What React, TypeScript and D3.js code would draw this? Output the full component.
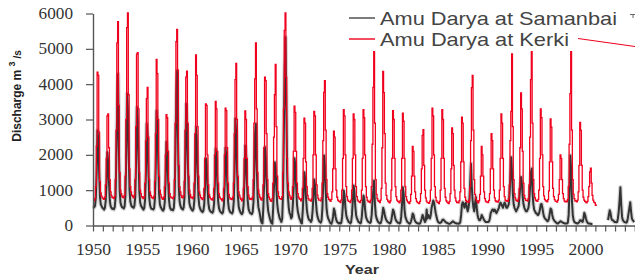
import { useEffect, useRef } from 'react';
import * as d3 from 'd3';

// monthly discharge (m3/s), Jan..Dec, one row per year
const kerkiStart = 1950;
const kerkiMonthly: number[][] = [
  [720, 700, 760, 1100, 2250, 4340, 4250, 2640, 1250, 920, 830, 780],
  [760, 740, 800, 1150, 1900, 3100, 3160, 2200, 1300, 950, 850, 800],
  [780, 760, 820, 1300, 2700, 5170, 5770, 3400, 1500, 1000, 900, 830],
  [800, 780, 850, 1400, 3000, 5600, 6020, 3700, 1600, 1100, 950, 850],
  [820, 780, 850, 1300, 2800, 4850, 4890, 3300, 1500, 1000, 900, 820],
  [780, 760, 820, 1200, 2400, 3590, 3910, 2500, 1300, 950, 850, 800],
  [780, 760, 830, 1250, 2600, 4700, 4300, 3000, 1400, 1000, 880, 800],
  [760, 740, 800, 1100, 2000, 3140, 3050, 2100, 1200, 900, 820, 780],
  [780, 760, 820, 1300, 2900, 5200, 5550, 4400, 1700, 1100, 950, 850],
  [800, 780, 840, 1250, 2700, 4200, 4370, 2900, 1400, 1000, 880, 800],
  [780, 760, 820, 1200, 2600, 4830, 4250, 2800, 1400, 950, 860, 790],
  [760, 730, 780, 1050, 1900, 3440, 3400, 2000, 1150, 880, 800, 760],
  [740, 720, 780, 1050, 2000, 3510, 3300, 2100, 1200, 900, 800, 760],
  [740, 700, 760, 1050, 2000, 3320, 3250, 2200, 1200, 880, 790, 750],
  [760, 730, 800, 1200, 2600, 4130, 4590, 3000, 1400, 950, 850, 780],
  [740, 700, 760, 1050, 1900, 3240, 3000, 1900, 1100, 860, 780, 740],
  [760, 730, 800, 1300, 2900, 4150, 5170, 3300, 1500, 1000, 880, 800],
  [750, 720, 780, 1150, 2200, 4200, 4100, 2600, 1300, 900, 800, 740],
  [700, 680, 760, 1200, 2500, 3700, 4560, 2800, 1400, 950, 820, 760],
  [760, 740, 820, 1500, 3300, 5520, 6020, 4200, 1900, 1200, 950, 850],
  [780, 740, 800, 1100, 2100, 3380, 3200, 2100, 1200, 900, 800, 760],
  [740, 700, 760, 1050, 1900, 3040, 2900, 1800, 1100, 850, 760, 720],
  [720, 690, 750, 1050, 2000, 3230, 3100, 2000, 1150, 860, 770, 720],
  [720, 700, 780, 1200, 2400, 3770, 4100, 2700, 1300, 900, 800, 740],
  [720, 680, 740, 950, 1600, 2670, 2500, 1600, 1000, 800, 720, 690],
  [680, 650, 720, 1000, 1900, 3280, 3100, 2000, 1100, 820, 720, 680],
  [680, 650, 720, 1000, 1900, 3160, 3000, 2000, 1100, 820, 720, 680],
  [670, 650, 710, 1000, 1900, 3280, 3050, 2000, 1100, 800, 710, 670],
  [680, 650, 720, 1100, 2300, 3910, 4920, 2900, 1300, 880, 760, 700],
  [680, 650, 720, 1050, 2200, 4360, 3760, 2600, 1200, 850, 740, 690],
  [670, 640, 700, 1000, 1900, 3250, 3000, 1900, 1100, 820, 720, 680],
  [670, 640, 700, 1000, 1900, 3180, 2950, 1900, 1100, 820, 720, 670],
  [650, 620, 680, 880, 1400, 2240, 2100, 1400, 950, 760, 680, 650],
  [640, 620, 680, 900, 1600, 2550, 2710, 1700, 1000, 780, 690, 650],
  [650, 630, 690, 1000, 1900, 3320, 3100, 2000, 1100, 800, 700, 660],
  [650, 620, 690, 1000, 1900, 3280, 3000, 1900, 1050, 800, 700, 660],
  [640, 620, 680, 900, 1600, 2760, 2600, 1700, 1000, 780, 690, 650],
  [660, 640, 700, 950, 1800, 3070, 2900, 1800, 1050, 800, 710, 670],
  [680, 650, 720, 1100, 2400, 3900, 4250, 2700, 1300, 880, 760, 700],
  [660, 640, 700, 880, 1400, 2240, 2000, 1400, 950, 760, 690, 660],
  [670, 650, 710, 900, 1600, 2600, 2400, 1600, 1000, 780, 700, 670],
  [680, 660, 720, 1000, 1900, 3160, 2900, 1900, 1100, 820, 720, 690],
  [700, 680, 760, 1150, 2400, 3230, 4860, 2800, 1300, 900, 780, 720],
  [700, 680, 750, 1050, 2200, 3750, 3300, 2100, 1200, 850, 760, 710],
  [710, 690, 760, 1150, 2500, 4130, 4920, 2900, 1300, 900, 780, 720],
  [700, 680, 740, 1000, 1900, 3300, 3050, 2000, 1100, 840, 740, 700],
  [690, 670, 730, 980, 1800, 3020, 2780, 1800, 1050, 820, 730, 690],
  [680, 660, 720, 880, 1300, 2000, 1900, 1300, 900, 760, 690, 670],
  [690, 670, 740, 1100, 2300, 3730, 4920, 2700, 1300, 880, 760, 700],
  [690, 670, 720, 950, 1700, 2920, 2690, 1700, 1000, 800, 720, 680],
  [660, 640, 680, 820, 1100, 1520, 1620, 1200, 850, 720, 660, 640],
  [570, 600],
];

const samanbaiStart = 1950;
const samanbaiMonthly: (number | null)[][] = [
  [550, 520, 560, 800, 1500, 2690, 2400, 1500, 800, 600, 550, 500],
  [480, 450, 500, 700, 1200, 2070, 1800, 1200, 700, 550, 500, 470],
  [480, 460, 520, 800, 2000, 3300, 4290, 2200, 1000, 650, 560, 520],
  [500, 480, 540, 850, 1900, 3730, 3300, 2100, 1000, 680, 580, 530],
  [520, 500, 560, 820, 1800, 3350, 3000, 1900, 950, 650, 560, 520],
  [480, 450, 500, 750, 1500, 2880, 2500, 1500, 800, 580, 500, 470],
  [470, 450, 500, 780, 1700, 3250, 2900, 1800, 900, 600, 520, 480],
  [440, 420, 470, 680, 1300, 2360, 2100, 1300, 750, 540, 470, 440],
  [450, 430, 500, 850, 2200, 3700, 4390, 2500, 1100, 680, 560, 500],
  [470, 450, 510, 800, 1800, 3440, 3000, 1900, 950, 620, 530, 480],
  [440, 420, 470, 720, 1500, 2780, 2400, 1500, 800, 560, 480, 430],
  [400, 380, 420, 600, 1100, 1900, 1700, 1100, 650, 480, 420, 390],
  [380, 360, 410, 620, 1200, 2170, 1900, 1200, 680, 490, 420, 380],
  [360, 340, 390, 600, 1200, 2190, 1950, 1250, 700, 480, 410, 370],
  [360, 340, 400, 680, 1600, 3020, 2600, 1600, 850, 540, 440, 380],
  [340, 320, 370, 600, 1250, 2260, 2000, 1250, 700, 470, 400, 350],
  [340, 320, 380, 650, 1500, 2600, 2880, 1700, 850, 520, 420, 300],
  [150, 80, 60, 500, 1200, 2220, 1900, 1200, 650, 400, 300, 200],
  [120, 70, 50, 500, 1100, 1790, 1600, 1000, 600, 400, 300, 200],
  [150, 100, 200, 900, 2600, 4400, 5330, 3400, 1500, 800, 500, 350],
  [300, 200, 250, 600, 1100, 1900, 1700, 1100, 600, 400, 300, 200],
  [150, 80, 60, 400, 900, 1510, 1300, 800, 450, 300, 200, 150],
  [150, 100, 150, 400, 800, 1300, 1150, 700, 400, 250, 180, 120],
  [100, 80, 150, 500, 1200, 1980, 1700, 1000, 500, 300, 200, 150],
  [100, 60, 50, 120, 250, 480, 400, 250, 150, 100, 80, 60],
  [80, 60, 80, 250, 600, 990, 850, 500, 300, 200, 150, 100],
  [90, 60, 100, 300, 700, 1130, 950, 550, 300, 200, 150, 100],
  [90, 60, 80, 250, 550, 850, 750, 450, 250, 180, 130, 100],
  [90, 70, 100, 300, 700, 1000, 1270, 600, 300, 200, 140, 100],
  [80, 60, 70, 150, 300, 500, 420, 300, 200, 150, 110, 90],
  [80, 60, 70, 150, 300, 450, 400, 280, 180, 130, 100, 80],
  [80, 60, 80, 250, 600, 1080, 900, 450, 250, 180, 120, 90],
  [70, 50, 60, 120, 220, 340, 300, 180, 120, 90, 70, 60],
  [60, 50, 60, 120, 200, 300, 250, 150, 100, 150, 450, 200],
  [300, 250, 200, 300, 500, 600, 710, 650, 500, 350, 250, 150],
  [100, 80, 70, 80, 100, 150, 170, 150, 120, 100, 80, 70],
  [60, 50, 50, 60, 80, 100, 120, 100, 80, 70, 60, 60],
  [60, 50, 60, 100, 300, 600, 660, 620, 500, 600, 650, 500],
  [400, 500, 700, 1200, 1750, 1100, 700, 500, 400, 650, 800, 500],
  [300, 200, 150, 150, 200, 300, 250, 200, 150, 120, 100, 100],
  [100, 100, 120, 200, 350, 400, 450, 450, 400, 450, 400, 350],
  [400, 450, 500, 600, 650, 600, 550, 500, 600, 650, 600, 500],
  [500, 550, 600, 900, 1400, 1930, 1500, 900, 600, 500, 450, 400],
  [450, 500, 550, 800, 1100, 1370, 1200, 800, 600, 500, 450, 400],
  [400, 450, 500, 700, 1100, 1500, 1610, 900, 600, 450, 400, 350],
  [350, 300, 300, 350, 450, 600, 610, 500, 350, 250, 200, 180],
  [150, 120, 130, 200, 350, 480, 450, 300, 200, 150, 120, 100],
  [80, 60, 60, 80, 100, 120, 110, 90, 80, 70, 60, 60],
  [60, 60, 80, 300, 1000, 1980, 1600, 700, 300, 150, 100, 80],
  [70, 60, 60, 80, 100, 150, 150, 120, 100, 200, 360, 300],
  [200, 120, 80, 60, 60, 50, 50, 40, 40, null, null, null],
  [null, null, null, null, null, null, null, null, null, null, null, null],
  [null, null, null, 150, 300, 430, 350, 200, 150, 150, 120, 100],
  [100, 90, 100, 200, 400, 700, 1080, 600, 250, 150, 120, 100],
  [90, 80, 100, 200, 350, 500, 660, 400, 200, 150, 120, 100],
];

const yTicks = [0, 1000, 2000, 3000, 4000, 5000, 6000];
const yearTicks = [
  1950, 1951, 1952, 1953, 1954, 1955, 1956, 1957, 1958, 1959, 1960, 1961, 1962, 1963,
  1964, 1965, 1966, 1967, 1968, 1969, 1970, 1971, 1972, 1973, 1974, 1975, 1976, 1977,
  1978, 1979, 1980, 1981, 1982, 1983, 1984, 1985, 1986, 1987, 1988, 1989, 1990, 1991,
  1992, 1993, 1994, 1995, 1996, 1997, 1998, 1999, 2000, 2001, 2002, 2003, 2004, 2005,
];
const labelYears = [1950, 1955, 1960, 1965, 1970, 1975, 1980, 1985, 1990, 1995, 2000];
const seriesNames = ['Amu Darya at Samanbai', 'Amu Darya at Kerki'];

type Pt = { t: number; v: number | null };

const toPoints = (start: number, rows: (number | null)[][]): Pt[] =>
  rows.flatMap((row, i) => row.map((v, m) => ({ t: start + i + m / 12, v })));

const App = () => {
  const svgRef = useRef<SVGSVGElement>(null);

  useEffect(() => {
    if (!svgRef.current) return;
    const svg = d3.select(svgRef.current);
    svg.selectAll('*').remove();

    const x = d3.scaleLinear().domain([1950, 2005]).range([93, 634.75]);
    const y = d3.scaleLinear().domain([0, 6000]).range([225.5, 13.5]);

    const serif = '"Liberation Serif", "Times New Roman", serif';
    const sans = '"Liberation Sans", Arial, sans-serif';

    const samanbai = toPoints(samanbaiStart, samanbaiMonthly);
    const kerki = toPoints(kerkiStart, kerkiMonthly);

    const blackLine = d3
      .line<Pt>()
      .defined(d => d.v != null)
      .x(d => x(d.t + 1 / 24))
      .y(d => y(d.v as number));

    const redLine = d3
      .line<Pt>()
      .x(d => x(d.t))
      .y(d => y(d.v as number))
      .curve(d3.curveStepAfter);

    // soft halo under the Samanbai line
    svg
      .append('path')
      .datum(samanbai)
      .attr('fill', 'none')
      .attr('stroke', '#999')
      .attr('stroke-opacity', 0.4)
      .attr('stroke-width', 4.5)
      .attr('stroke-linejoin', 'round')
      .attr('d', blackLine);

    svg
      .append('path')
      .datum(samanbai)
      .attr('fill', 'none')
      .attr('stroke', '#333')
      .attr('stroke-width', 2)
      .attr('stroke-linejoin', 'round')
      .attr('d', blackLine);

    svg
      .append('path')
      .datum(kerki)
      .attr('fill', 'none')
      .attr('stroke', '#f0001c')
      .attr('stroke-width', 1.3)
      .attr('d', redLine);

    // y axis
    const yAxis = svg
      .append('g')
      .attr('transform', 'translate(93,0)')
      .call(
        d3
          .axisLeft(y)
          .tickValues(yTicks)
          .tickSize(7)
          .tickSizeOuter(0)
          .tickPadding(13)
          .tickFormat(d => String(d))
      );
    yAxis.select('.domain').attr('stroke', '#555').attr('stroke-width', 1.4);
    yAxis.selectAll('.tick line').attr('stroke', '#555').attr('stroke-width', 1.2);
    yAxis
      .selectAll<SVGTextElement, number>('.tick text')
      .attr('font-family', serif)
      .attr('font-size', 16)
      .attr('fill', '#333')
      .attr('textLength', d => String(d).length * 8.6)
      .attr('lengthAdjust', 'spacingAndGlyphs');

    // x axis
    const xAxis = svg
      .append('g')
      .attr('transform', 'translate(0,225.5)')
      .call(
        d3
          .axisBottom(x)
          .tickValues(yearTicks)
          .tickSize(6)
          .tickSizeOuter(0)
          .tickPadding(12)
          .tickFormat(d => (labelYears.includes(+d) ? String(d) : ''))
      );
    xAxis.select('.domain').attr('stroke', '#555').attr('stroke-width', 1.4);
    xAxis.selectAll('.tick line').attr('stroke', '#555').attr('stroke-width', 1.2);
    xAxis
      .selectAll<SVGTextElement, number>('.tick text')
      .filter(d => labelYears.includes(+d))
      .attr('font-family', serif)
      .attr('font-size', 16)
      .attr('fill', '#333')
      .attr('textLength', 35)
      .attr('lengthAdjust', 'spacingAndGlyphs');

    // axis titles
    svg
      .append('text')
      .attr('x', 362)
      .attr('y', 273.5)
      .attr('text-anchor', 'middle')
      .attr('font-family', sans)
      .attr('font-weight', 'bold')
      .attr('font-size', 13)
      .attr('fill', '#333')
      .attr('textLength', 34)
      .attr('lengthAdjust', 'spacingAndGlyphs')
      .text('Year');

    const yTitle = svg
      .append('text')
      .attr('transform', 'translate(21,96) rotate(-90)')
      .attr('text-anchor', 'middle')
      .attr('font-family', sans)
      .attr('font-weight', 'bold')
      .attr('font-size', 12)
      .attr('fill', '#222');
    yTitle.append('tspan').text('Discharge m ');
    yTitle.append('tspan').attr('font-size', 9).attr('dy', -6).text('3');
    yTitle.append('tspan').attr('font-size', 10).attr('dy', 6).text(' /s');

    // legend
    const legendColors = ['#444', '#f0001c'];
    const legendWidths = [237, 189];
    seriesNames.forEach((name, i) => {
      const ly = 18 + i * 21;
      svg
        .append('line')
        .attr('x1', 349)
        .attr('x2', 375)
        .attr('y1', ly)
        .attr('y2', ly)
        .attr('stroke', legendColors[i])
        .attr('stroke-width', 1.4);
      svg
        .append('text')
        .attr('x', 380)
        .attr('y', ly + 7)
        .attr('font-family', sans)
        .attr('font-size', 18.5)
        .attr('fill', '#444')
        .attr('textLength', legendWidths[i])
        .attr('lengthAdjust', 'spacingAndGlyphs')
        .text(name);
    });

    // clipped leader marks at the right edge
    svg
      .append('path')
      .attr('d', 'M630,14.5H635M633,14.5V18')
      .attr('stroke', '#666')
      .attr('stroke-width', 1)
      .attr('fill', 'none');
    svg
      .append('line')
      .attr('x1', 578)
      .attr('y1', 38.5)
      .attr('x2', 635)
      .attr('y2', 46.5)
      .attr('stroke', '#f0001c')
      .attr('stroke-width', 1);
  }, []);

  return (
    <svg
      ref={svgRef}
      width={635}
      height={275}
      style={{ position: 'absolute', left: 0, top: 0, background: '#fff' }}
    />
  );
};

export default App;
